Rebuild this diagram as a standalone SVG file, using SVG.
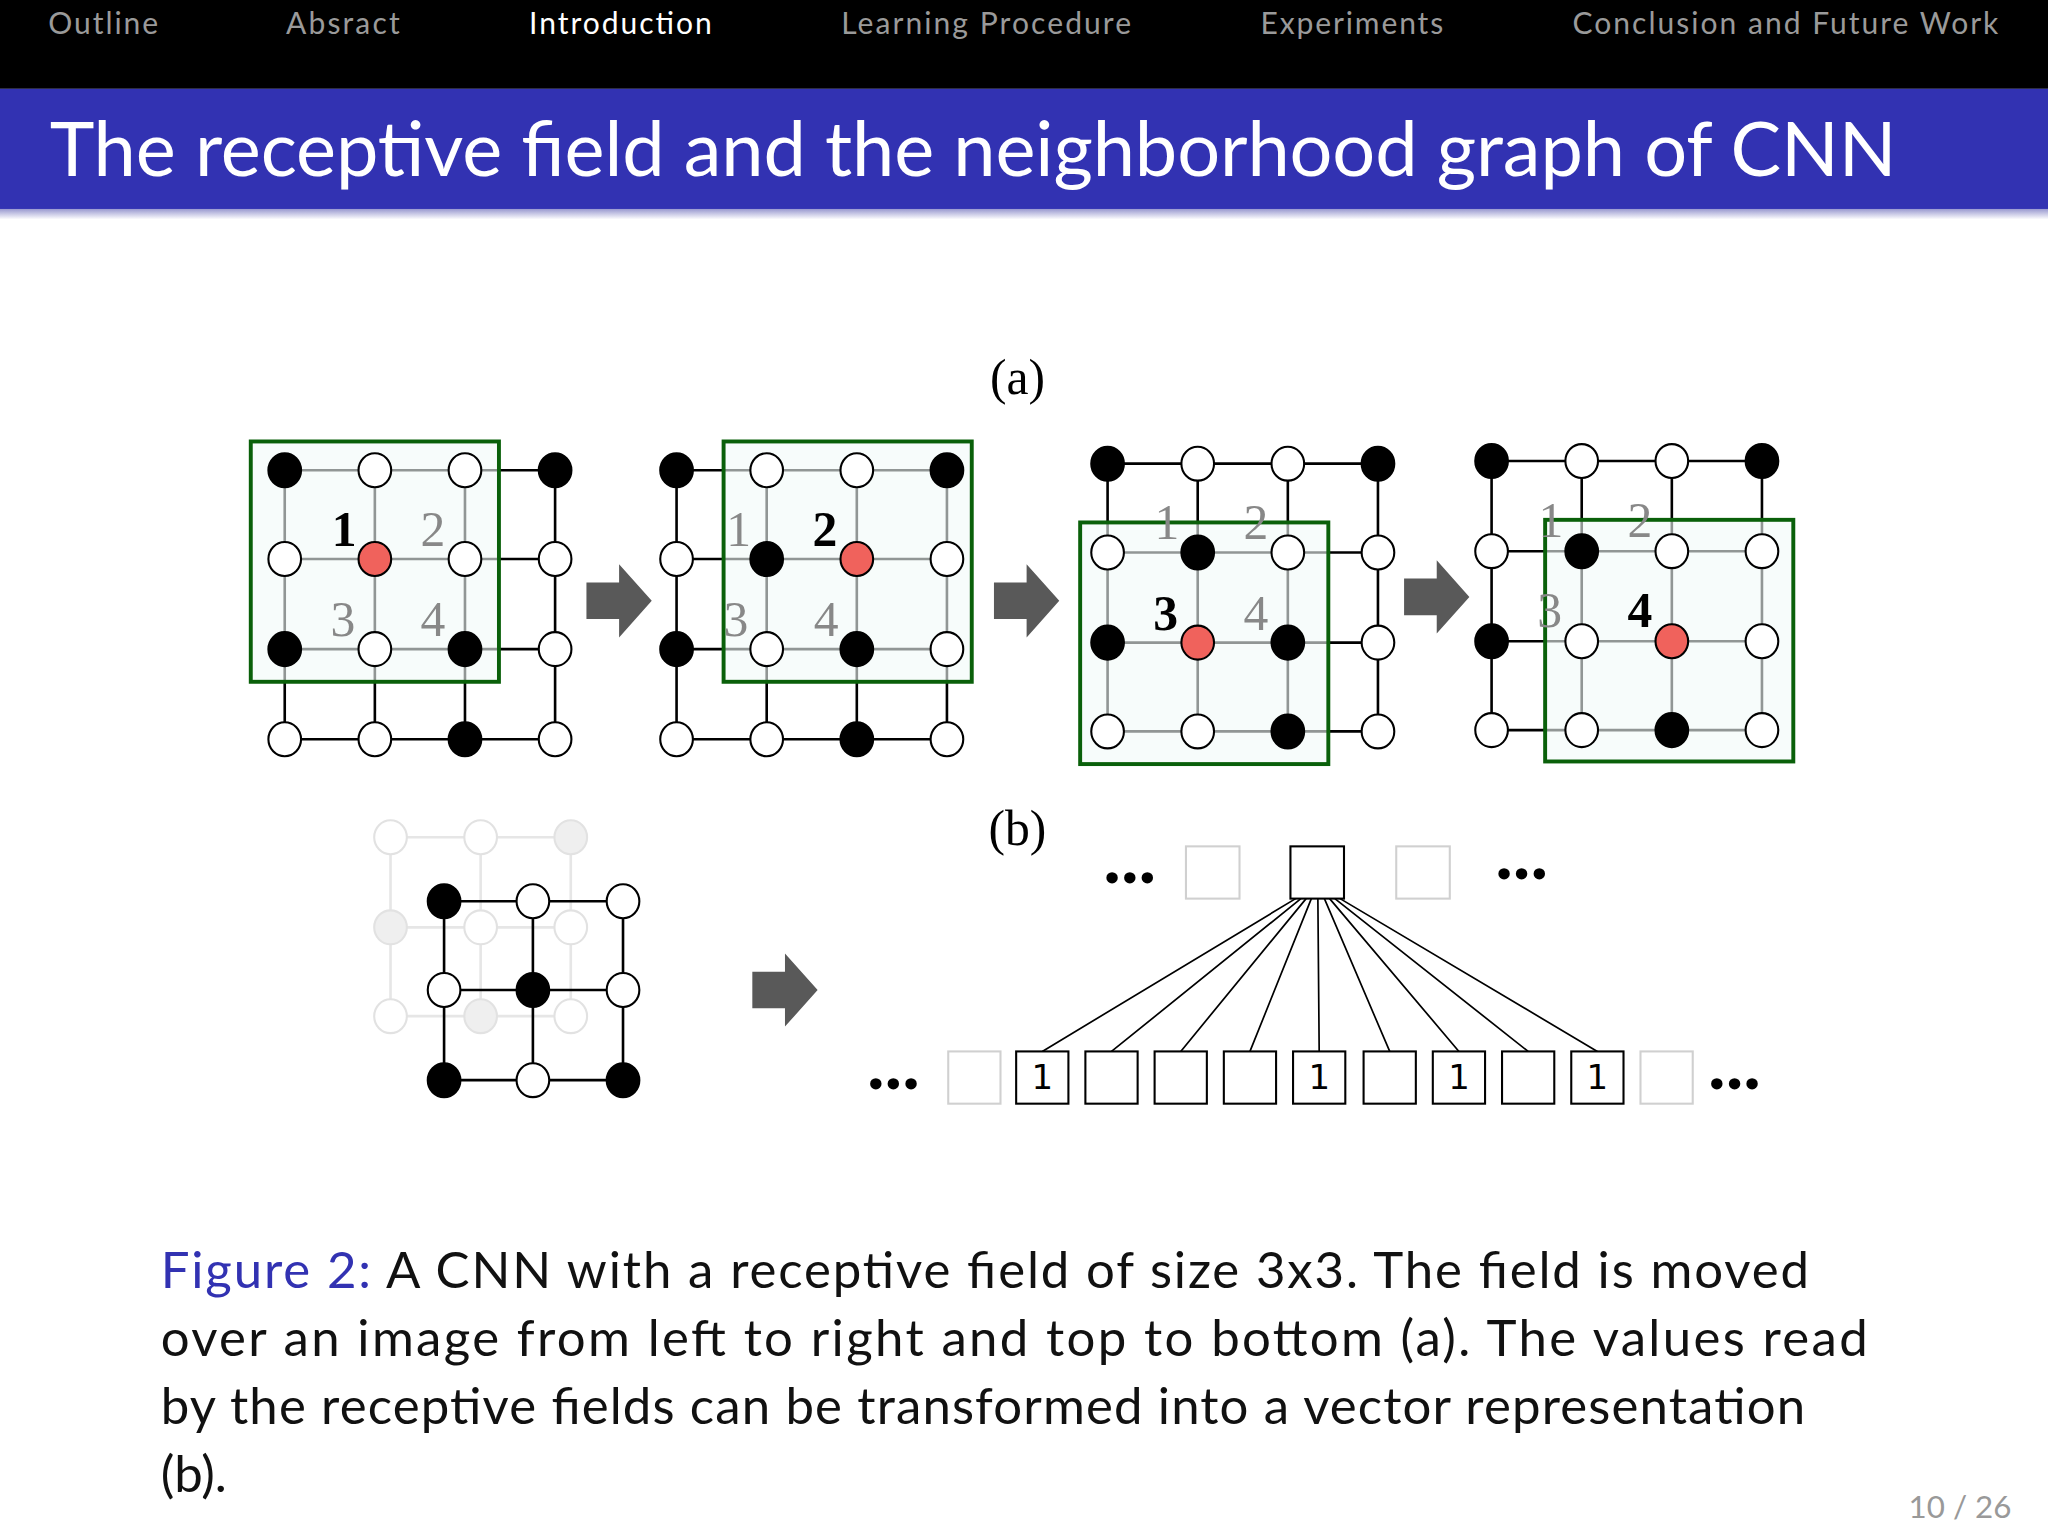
<svg xmlns="http://www.w3.org/2000/svg" width="2048" height="1536" viewBox="0 0 2048 1536">
<style>
.nav{font-family:Lato,"Open Sans",sans-serif;font-size:23px;fill:#9a9a9a}
.ln{stroke:#000;stroke-width:2;fill:none}
.w{fill:#fff;stroke:#000;stroke-width:1.6}
.b{fill:#000;stroke:#000;stroke-width:1.6}
.r{fill:#f0625c;stroke:#000;stroke-width:1.6}
.box{fill:#f2faf8;fill-opacity:0.6;stroke:#0a600a;stroke-width:3}
.lg{font-family:"Liberation Serif",serif;font-size:38px;fill:#888}
.lb{font-family:"Liberation Serif",serif;font-size:38px;font-weight:bold;fill:#000}
.arr{fill:#595959}
.fl{stroke:#e6e6e6;stroke-width:2;fill:none}
.fw{fill:#fff;stroke:#e2e2e2;stroke-width:1.6}
.ff{fill:#efefef;stroke:#e2e2e2;stroke-width:1.6}
.vb{fill:#fff;stroke:#000;stroke-width:1.6}
.vl{fill:#fff;stroke:#d0d0d0;stroke-width:1.6}
.vt{font-family:"DejaVu Sans",sans-serif;font-size:26px;text-anchor:middle}
.dots{font-family:"Liberation Serif",serif;font-size:54px;font-weight:bold;text-anchor:middle}
.cap{font-family:Lato,"Open Sans",sans-serif;font-size:39px;fill:#111}
.fan{stroke:#000;stroke-width:1.3}
</style>
<defs>
<linearGradient id="sh" x1="0" y1="0" x2="0" y2="1"><stop offset="0" stop-color="#9a9ad0"/><stop offset="1" stop-color="#fff"/></linearGradient>
<path id="ar" d="M0,-14 H25 V-28 L50,0 L25,28 V14 H0 Z"/>
</defs>
<rect width="2048" height="1536" fill="#fff"/>
<g transform="scale(1.30612)">
<g id="header">
<rect x="0" y="0" width="1568" height="68" fill="#000"/>
<text class="nav" x="37" y="26" textLength="84">Outline</text>
<text class="nav" x="219" y="26" textLength="87">Absract</text>
<text class="nav" x="405" y="26" textLength="140" style="fill:#fff">Introduction</text>
<text class="nav" x="644" y="26" textLength="222">Learning Procedure</text>
<text class="nav" x="965" y="26" textLength="140">Experiments</text>
<text class="nav" x="1204" y="26" textLength="326">Conclusion and Future Work</text>
<rect x="0" y="68" width="1568" height="92" fill="#3232b2"/>
<rect x="0" y="160" width="1568" height="8" fill="url(#sh)"/>
<text x="38" y="135" font-family="Lato,'Open Sans',sans-serif" font-size="58" fill="#fff" textLength="1414">The receptive field and the neighborhood graph of CNN</text>
</g>
<text x="779" y="302" class="lb" style="font-weight:normal" text-anchor="middle">(a)</text>
<text x="779" y="647" class="lb" style="font-weight:normal" text-anchor="middle">(b)</text>

<g id="panel1">
<path class="ln" d="M218,360H425M218,428H425M218,497H425M218,566H425M218,360V566M287,360V566M356,360V566M425,360V566"/>
<rect class="box" x="192" y="338" width="190" height="184"/>
<ellipse class="b" cx="218" cy="360" rx="12.5" ry="13"/><ellipse class="w" cx="287" cy="360" rx="12.5" ry="13"/><ellipse class="w" cx="356" cy="360" rx="12.5" ry="13"/><ellipse class="b" cx="425" cy="360" rx="12.5" ry="13"/>
<ellipse class="w" cx="218" cy="428" rx="12.5" ry="13"/><ellipse class="r" cx="287" cy="428" rx="12.5" ry="13"/><ellipse class="w" cx="356" cy="428" rx="12.5" ry="13"/><ellipse class="w" cx="425" cy="428" rx="12.5" ry="13"/>
<ellipse class="b" cx="218" cy="497" rx="12.5" ry="13"/><ellipse class="w" cx="287" cy="497" rx="12.5" ry="13"/><ellipse class="b" cx="356" cy="497" rx="12.5" ry="13"/><ellipse class="w" cx="425" cy="497" rx="12.5" ry="13"/>
<ellipse class="w" cx="218" cy="566" rx="12.5" ry="13"/><ellipse class="w" cx="287" cy="566" rx="12.5" ry="13"/><ellipse class="b" cx="356" cy="566" rx="12.5" ry="13"/><ellipse class="w" cx="425" cy="566" rx="12.5" ry="13"/>
<text class="lb" x="254" y="418">1</text><text class="lg" x="322" y="418">2</text><text class="lg" x="253" y="487">3</text><text class="lg" x="322" y="487">4</text>
</g>
<use id="arrow1" href="#ar" class="arr" x="449" y="460"/>

<g id="panel2">
<path class="ln" d="M518,360H725M518,428H725M518,497H725M518,566H725M518,360V566M587,360V566M656,360V566M725,360V566"/>
<rect class="box" x="554" y="338" width="190" height="184"/>
<ellipse class="b" cx="518" cy="360" rx="12.5" ry="13"/><ellipse class="w" cx="587" cy="360" rx="12.5" ry="13"/><ellipse class="w" cx="656" cy="360" rx="12.5" ry="13"/><ellipse class="b" cx="725" cy="360" rx="12.5" ry="13"/>
<ellipse class="w" cx="518" cy="428" rx="12.5" ry="13"/><ellipse class="b" cx="587" cy="428" rx="12.5" ry="13"/><ellipse class="r" cx="656" cy="428" rx="12.5" ry="13"/><ellipse class="w" cx="725" cy="428" rx="12.5" ry="13"/>
<ellipse class="b" cx="518" cy="497" rx="12.5" ry="13"/><ellipse class="w" cx="587" cy="497" rx="12.5" ry="13"/><ellipse class="b" cx="656" cy="497" rx="12.5" ry="13"/><ellipse class="w" cx="725" cy="497" rx="12.5" ry="13"/>
<ellipse class="w" cx="518" cy="566" rx="12.5" ry="13"/><ellipse class="w" cx="587" cy="566" rx="12.5" ry="13"/><ellipse class="b" cx="656" cy="566" rx="12.5" ry="13"/><ellipse class="w" cx="725" cy="566" rx="12.5" ry="13"/>
<text class="lg" x="556" y="418">1</text><text class="lb" x="622" y="418">2</text><text class="lg" x="554" y="487">3</text><text class="lg" x="623" y="487">4</text>
</g>
<use id="arrow2" href="#ar" class="arr" x="761" y="460"/>

<g id="panel3">
<path class="ln" d="M848,355H1055M848,423H1055M848,492H1055M848,560H1055M848,355V560M917,355V560M986,355V560M1055,355V560"/>
<rect class="box" x="827" y="400" width="190" height="185"/>
<ellipse class="b" cx="848" cy="355" rx="12.5" ry="13"/><ellipse class="w" cx="917" cy="355" rx="12.5" ry="13"/><ellipse class="w" cx="986" cy="355" rx="12.5" ry="13"/><ellipse class="b" cx="1055" cy="355" rx="12.5" ry="13"/>
<ellipse class="w" cx="848" cy="423" rx="12.5" ry="13"/><ellipse class="b" cx="917" cy="423" rx="12.5" ry="13"/><ellipse class="w" cx="986" cy="423" rx="12.5" ry="13"/><ellipse class="w" cx="1055" cy="423" rx="12.5" ry="13"/>
<ellipse class="b" cx="848" cy="492" rx="12.5" ry="13"/><ellipse class="r" cx="917" cy="492" rx="12.5" ry="13"/><ellipse class="b" cx="986" cy="492" rx="12.5" ry="13"/><ellipse class="w" cx="1055" cy="492" rx="12.5" ry="13"/>
<ellipse class="w" cx="848" cy="560" rx="12.5" ry="13"/><ellipse class="w" cx="917" cy="560" rx="12.5" ry="13"/><ellipse class="b" cx="986" cy="560" rx="12.5" ry="13"/><ellipse class="w" cx="1055" cy="560" rx="12.5" ry="13"/>
<text class="lg" x="884" y="413">1</text><text class="lg" x="952" y="413">2</text><text class="lb" x="883" y="482">3</text><text class="lg" x="952" y="482">4</text>
</g>
<use id="arrow3" href="#ar" class="arr" x="1075" y="457"/>

<g id="panel4">
<path class="ln" d="M1142,353H1349M1142,422H1349M1142,491H1349M1142,559H1349M1142,353V559M1211,353V559M1280,353V559M1349,353V559"/>
<rect class="box" x="1183" y="398" width="190" height="185"/>
<ellipse class="b" cx="1142" cy="353" rx="12.5" ry="13"/><ellipse class="w" cx="1211" cy="353" rx="12.5" ry="13"/><ellipse class="w" cx="1280" cy="353" rx="12.5" ry="13"/><ellipse class="b" cx="1349" cy="353" rx="12.5" ry="13"/>
<ellipse class="w" cx="1142" cy="422" rx="12.5" ry="13"/><ellipse class="b" cx="1211" cy="422" rx="12.5" ry="13"/><ellipse class="w" cx="1280" cy="422" rx="12.5" ry="13"/><ellipse class="w" cx="1349" cy="422" rx="12.5" ry="13"/>
<ellipse class="b" cx="1142" cy="491" rx="12.5" ry="13"/><ellipse class="w" cx="1211" cy="491" rx="12.5" ry="13"/><ellipse class="r" cx="1280" cy="491" rx="12.5" ry="13"/><ellipse class="w" cx="1349" cy="491" rx="12.5" ry="13"/>
<ellipse class="w" cx="1142" cy="559" rx="12.5" ry="13"/><ellipse class="w" cx="1211" cy="559" rx="12.5" ry="13"/><ellipse class="b" cx="1280" cy="559" rx="12.5" ry="13"/><ellipse class="w" cx="1349" cy="559" rx="12.5" ry="13"/>
<text class="lg" x="1178" y="411">1</text><text class="lg" x="1246" y="411">2</text><text class="lg" x="1177" y="480">3</text><text class="lb" x="1246" y="480">4</text>
</g>

<g id="panelb">
<path class="fl" d="M299,641H437M299,710H437M299,778H437M299,641V778M368,641V778M437,641V778"/>
<ellipse class="fw" cx="299" cy="641" rx="12.5" ry="13"/><ellipse class="fw" cx="368" cy="641" rx="12.5" ry="13"/><ellipse class="ff" cx="437" cy="641" rx="12.5" ry="13"/>
<ellipse class="ff" cx="299" cy="710" rx="12.5" ry="13"/><ellipse class="fw" cx="368" cy="710" rx="12.5" ry="13"/><ellipse class="fw" cx="437" cy="710" rx="12.5" ry="13"/>
<ellipse class="fw" cx="299" cy="778" rx="12.5" ry="13"/><ellipse class="ff" cx="368" cy="778" rx="12.5" ry="13"/><ellipse class="fw" cx="437" cy="778" rx="12.5" ry="13"/>
<path class="ln" d="M340,690H477M340,758H477M340,827H477M340,690V827M408,690V827M477,690V827"/>
<ellipse class="b" cx="340" cy="690" rx="12.5" ry="13"/><ellipse class="w" cx="408" cy="690" rx="12.5" ry="13"/><ellipse class="w" cx="477" cy="690" rx="12.5" ry="13"/>
<ellipse class="w" cx="340" cy="758" rx="12.5" ry="13"/><ellipse class="b" cx="408" cy="758" rx="12.5" ry="13"/><ellipse class="w" cx="477" cy="758" rx="12.5" ry="13"/>
<ellipse class="b" cx="340" cy="827" rx="12.5" ry="13"/><ellipse class="w" cx="408" cy="827" rx="12.5" ry="13"/><ellipse class="b" cx="477" cy="827" rx="12.5" ry="13"/>
</g>
<use id="arrow4" href="#ar" class="arr" x="576" y="758"/>

<g id="connectors">
<path class="fan" d="M992,688L798,805M996,688L851,805M1000,688L904,805M1004,688L957,805M1009,688L1010,805M1014,688L1064,805M1018,688L1117,805M1022,688L1170,805M1026,688L1223,805"/>
</g>
<g id="vector">
<rect class="vl" x="908" y="648" width="41" height="40"/>
<rect class="vb" x="988" y="648" width="41" height="40"/>
<rect class="vl" x="1069" y="648" width="41" height="40"/>
<text class="dots" x="865" y="676">...</text><text class="dots" x="1165" y="673">...</text>
<text class="dots" x="684" y="834">...</text><text class="dots" x="1328" y="834">...</text>
<rect class="vl" x="726" y="805" width="40" height="40"/>
<rect class="vb" x="778" y="805" width="40" height="40"/>
<rect class="vb" x="831" y="805" width="40" height="40"/>
<rect class="vb" x="884" y="805" width="40" height="40"/>
<rect class="vb" x="937" y="805" width="40" height="40"/>
<rect class="vb" x="990" y="805" width="40" height="40"/>
<rect class="vb" x="1044" y="805" width="40" height="40"/>
<rect class="vb" x="1097" y="805" width="40" height="40"/>
<rect class="vb" x="1150" y="805" width="40" height="40"/>
<rect class="vb" x="1203" y="805" width="40" height="40"/>
<rect class="vl" x="1256" y="805" width="40" height="40"/>
<text class="vt" x="798" y="834">1</text><text class="vt" x="1010" y="834">1</text><text class="vt" x="1117" y="834">1</text><text class="vt" x="1223" y="834">1</text>
</g>

<g id="caption">
<text class="cap" x="123" y="986" textLength="1262"><tspan fill="#3232b2">Figure 2:</tspan> A CNN with a receptive field of size 3x3.  The field is moved</text>
<text class="cap" x="123" y="1038" textLength="1307">over an image from left to right and top to bottom (a).  The values read</text>
<text class="cap" x="123" y="1090" textLength="1259">by the receptive fields can be transformed into a vector representation</text>
<text class="cap" x="123" y="1142">(b).</text>
<text x="1540" y="1162" font-family="Lato,'Open Sans',sans-serif" font-size="24" fill="#999" text-anchor="end">10 / 26</text>
</g>
</g>
</svg>
